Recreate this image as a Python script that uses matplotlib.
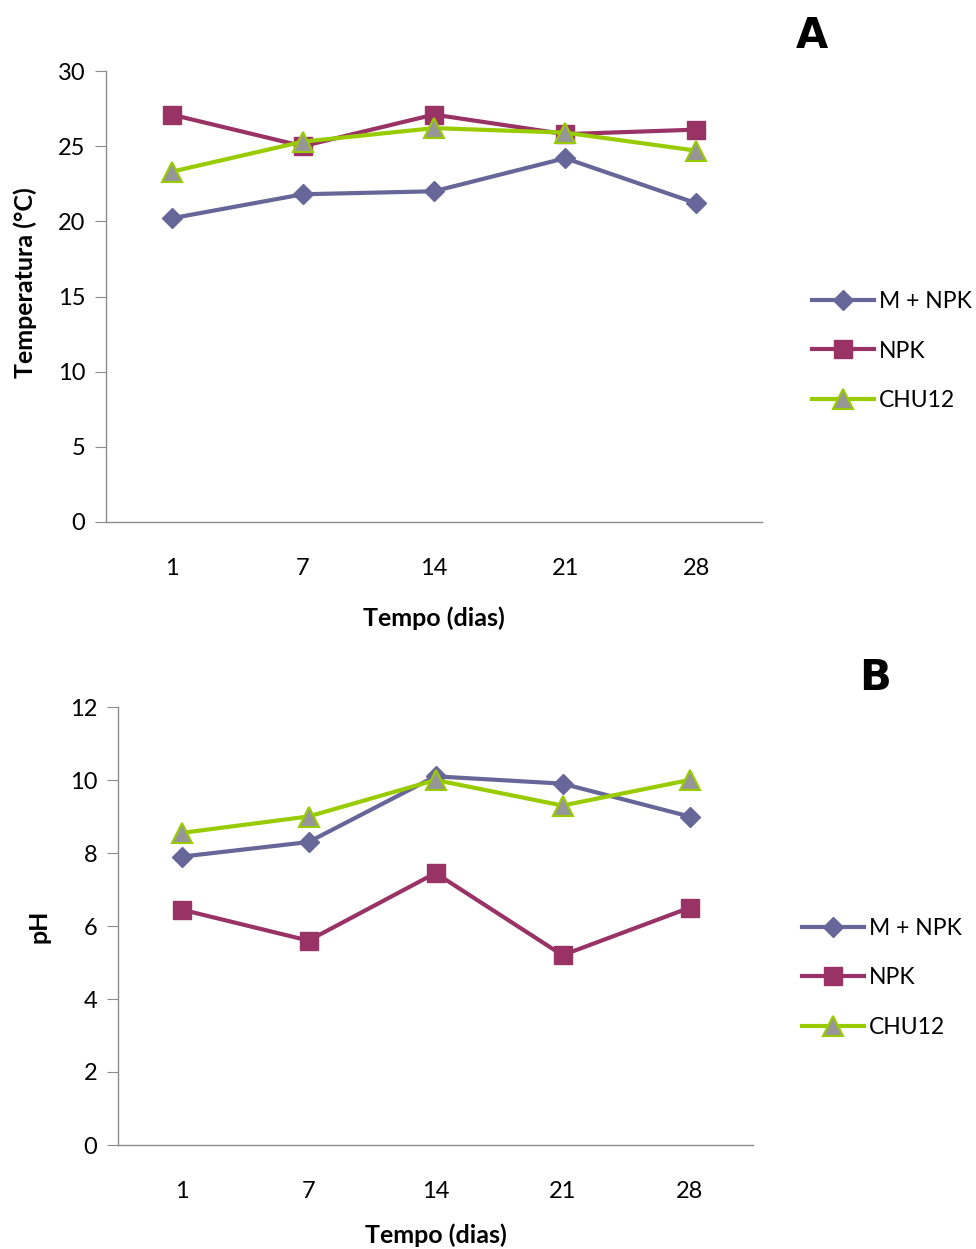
import matplotlib
matplotlib.use("Agg")
import matplotlib.pyplot as plt
from matplotlib.lines import Line2D

plt.rcParams['font.family'] = ['Lato', 'DejaVu Sans']

days = ["1", "7", "14", "21", "28"]
series_names = ["M + NPK", "NPK", "CHU12"]

temp_m_npk = [20.2, 21.8, 22.0, 24.2, 21.2]
temp_npk = [27.1, 25.0, 27.1, 25.8, 26.1]
temp_chu12 = [23.3, 25.3, 26.2, 25.9, 24.7]

ph_m_npk = [7.9, 8.3, 10.1, 9.9, 9.0]
ph_npk = [6.45, 5.6, 7.45, 5.2, 6.5]
ph_chu12 = [8.55, 9.0, 10.0, 9.3, 10.0]

C_M = "#666699"
C_N = "#993366"
C_C = "#99CC00"
GREY = "#969696"
SP = "#8c8c8c"

styles = [
    dict(color=C_M, marker="D", markersize=10.5, markerfacecolor=C_M, markeredgecolor=C_M),
    dict(color=C_N, marker="s", markersize=12.5, markerfacecolor=C_N, markeredgecolor=C_N),
    dict(color=C_C, marker="^", markersize=14.5, markerfacecolor=GREY, markeredgecolor=C_C, markeredgewidth=1.5),
]

fig = plt.figure(figsize=(9.76, 12.49), dpi=100)

def panel(rect, data, ymax, ystep, ylabel, letter, letter_xy, leg_xy, xlabelpad, ylab_xy):
    ax = fig.add_axes(rect)
    x = list(range(len(days)))
    for vals, st in zip(data, styles):
        ax.plot(x, vals, linewidth=3, **st, zorder=3)
    ax.set_xlim(-0.5, len(days) - 0.5)
    ax.set_ylim(0, ymax)
    ax.set_yticks(list(range(0, ymax + 1, ystep)))
    ax.set_xticks(x)
    ax.set_xticklabels(days)
    for s in ["top", "right"]:
        ax.spines[s].set_visible(False)
    for s in ["left", "bottom"]:
        ax.spines[s].set_color(SP)
        ax.spines[s].set_linewidth(1)
    ax.tick_params(axis="y", direction="out", length=8, color=SP, labelsize=17, pad=7)
    ax.tick_params(axis="x", length=0, labelsize=17, pad=26)
    ax.set_xlabel("Tempo (dias)", fontsize=18, fontweight="bold", labelpad=xlabelpad)
    ax.set_ylabel(ylabel, fontsize=18, fontweight="bold")
    ax.yaxis.set_label_coords(*ylab_xy)
    fig.text(letter_xy[0], letter_xy[1], letter, fontsize=30, fontweight="heavy",
             family="DejaVu Sans", ha="center", va="center")
    handles = [Line2D([0], [0], linewidth=3, **st) for st in styles]
    fig.legend(handles, series_names, loc="center left", bbox_to_anchor=leg_xy,
               frameon=False, fontsize=16.5, handlelength=2.7, handletextpad=0.2,
               labelspacing=1.25, borderaxespad=0)
    return ax

panel([106 / 976, 1 - 522 / 1249, 656 / 976, 451 / 1249],
      [temp_m_npk, temp_npk, temp_chu12], 30, 5, "Temperatura (°C)", "A",
      (812 / 976, 1 - 36 / 1249), (803 / 976, 1 - 351 / 1249), 20, (-0.105, 0.53))
panel([118 / 976, 1 - 1145 / 1249, 635 / 976, 438 / 1249],
      [ph_m_npk, ph_npk, ph_chu12], 12, 2, "pH", "B",
      (875 / 976, 1 - 678 / 1249), (793 / 976, 1 - 978 / 1249), 15, (-0.107, 0.5))

fig.savefig("out.png", dpi=100)
